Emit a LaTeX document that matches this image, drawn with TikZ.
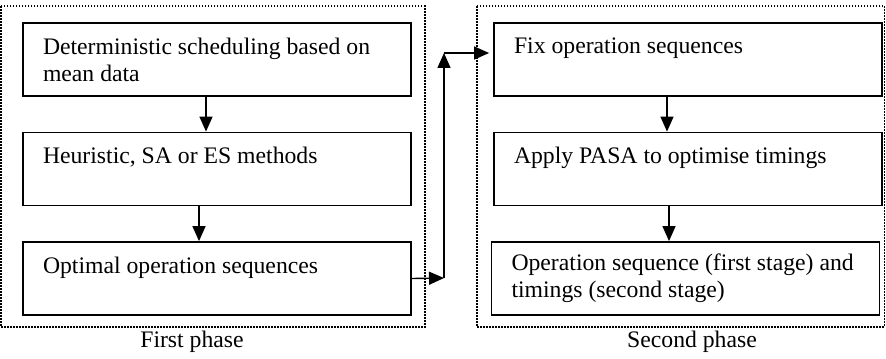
\documentclass[tikz,border=0pt]{standalone}
\usepackage{fontspec}
\setmainfont{Liberation Serif}
\usetikzlibrary{calc,arrows.meta}

\begin{document}
\begin{tikzpicture}[x=0.5pt, y=0.5pt, node distance=54.75pt, every node/.style={font=\fontsize{11.85}{13.5}\selectfont}]
\tikzstyle{stage} = [rectangle, minimum width=194pt, minimum height=36.5pt, text width=174pt, inner xsep=10pt, align=flush left, draw=black, line width=.9pt]
\tikzstyle{flow} = [-{Triangle[width=6.5pt, length=7.5pt]}, line width=.7pt]
\tikzstyle{phase} = [draw=black, line width=.8pt, dash pattern=on .8pt off .7pt]

\useasboundingbox (0,0) rectangle (886,-358);

% first phase
\node (det) [stage] at (217,-59.5) {\mbox{Deterministic scheduling based on}\\mean data};
\node (heur) [stage, below of=det] {\mbox{Heuristic, SA or ES methods}\\\mbox{}};
\node (opt) [stage, below of=heur] {\mbox{Optimal operation sequences}\\\mbox{}};

% second phase
\node (fix) [stage] at (688,-59.5) {\mbox{Fix operation sequences}\\\mbox{}};
\node (pasa) [stage, below of=fix] {\mbox{Apply PASA to optimise timings}\\\mbox{}};
\node (res) [stage, below of=pasa, xshift=-1.25pt] {\mbox{Operation sequence (first stage) and}\\\mbox{timings (second stage)}};

\draw[phase] ($(det.north west)+(-10.5pt,8pt)$) rectangle ($(opt.south east)+(6.5pt,-5.5pt)$);
\draw[phase] ($(fix.north west)+(-8pt,8pt)$) rectangle ($(res.south east)+(2pt,-5.5pt)$);

\node (first) at (192,-342) {First phase};
\node (second) at (692,-342) {Second phase};

\draw[flow] ($(det.south)+(-5.5pt,0)$) -- ($(heur.north)+(-5.5pt,0)$);
\draw[flow] ($(heur.south)+(-9pt,0)$) -- ($(opt.north)+(-9pt,0)$);
\draw[flow] ($(fix.south)+(-10.5pt,0)$) -- ($(pasa.north)+(-10.5pt,0)$);
\draw[flow] ($(pasa.south)+(-9.5pt,0)$) -- ($(res.north)+(-8.25pt,0)$);

% link between phases
\coordinate (up) at (444,-278);
\coordinate (top) at (444,-53);
\draw[flow] (opt.east) -- (up);
\draw[flow] (up) -- (top);
\draw[flow, shorten >=2pt] (top) -- (top -| fix.west);

\end{tikzpicture}
\end{document}
